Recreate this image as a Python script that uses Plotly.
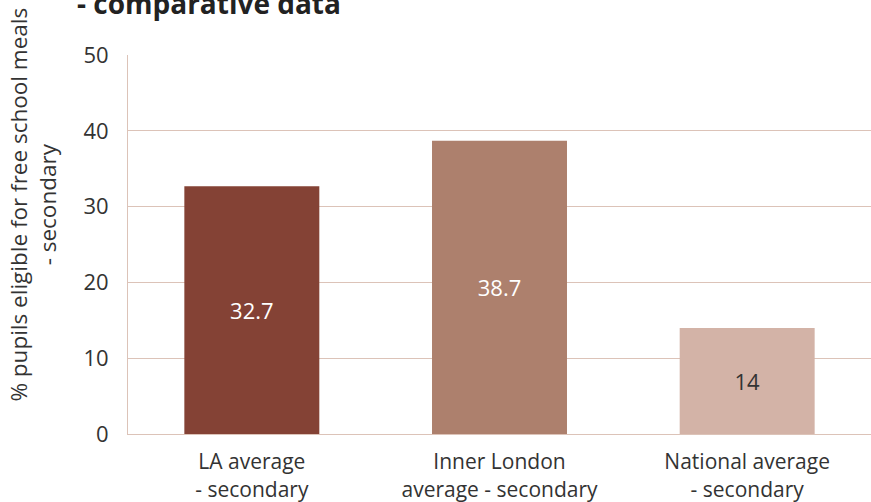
import plotly.graph_objects as go

categories = ["LA average<br>- secondary", "Inner London<br>average - secondary", "National average<br>- secondary"]
values = [32.7, 38.7, 14]
value_labels = ["32.7", "38.7", "14"]
bar_colors = ["#844235", "#ad806d", "#d3b3a7"]
label_colors = ["#ffffff", "#ffffff", "#333333"]
y_ticks = [0, 10, 20, 30, 40, 50]

grid_color = "#dcc3b8"
font_family = "Open Sans, Noto Sans, sans-serif"

fig = go.Figure(go.Bar(
    x=categories, y=values, text=value_labels,
    textposition="inside", insidetextanchor="middle",
    textfont=dict(size=22, color=label_colors, family=font_family),
    marker=dict(color=bar_colors, line=dict(width=0)),
    width=0.545, hoverinfo="skip",
))

fig.update_layout(
    width=871, height=502,
    margin=dict(l=128, r=0, t=55, b=68),
    plot_bgcolor="white", paper_bgcolor="white",
    showlegend=False,
    font=dict(family=font_family, color="#333333"),
    uniformtext=dict(mode=False),
)
fig.update_xaxes(
    showline=True, linecolor=grid_color, linewidth=1, automargin=False,
    tickfont=dict(size=21, color="#333333"), ticks="", ticklabelstandoff=9,
)
fig.update_yaxes(
    range=[0, 50], tickvals=y_ticks, showgrid=True, gridcolor=grid_color,
    showline=True, linecolor=grid_color, linewidth=1, zeroline=False, automargin=False,
    tickfont=dict(size=22, color="#333333"), ticks="", ticklabelstandoff=14,
)
fig.add_annotation(
    text="% pupils eligible for free school meals<br>- secondary",
    xref="paper", yref="paper", x=-0.128, y=0.605, xanchor="center", yanchor="middle",
    textangle=-90, showarrow=False, font=dict(size=22.5, color="#333333", family=font_family),
)
fig.add_annotation(
    text="<b>- comparative data</b>",
    xref="paper", yref="paper", x=-0.072, y=1.082, xanchor="left", yanchor="bottom",
    showarrow=False, font=dict(size=28, color="#222222", family=font_family),
)
fig.write_html(
    "out.html",
    config={"displayModeBar": False},
    post_script=(
        "document.body.style.margin='0';"
        "document.body.style.overflow='hidden';"
        "document.documentElement.style.overflow='hidden';"
    ),
)
